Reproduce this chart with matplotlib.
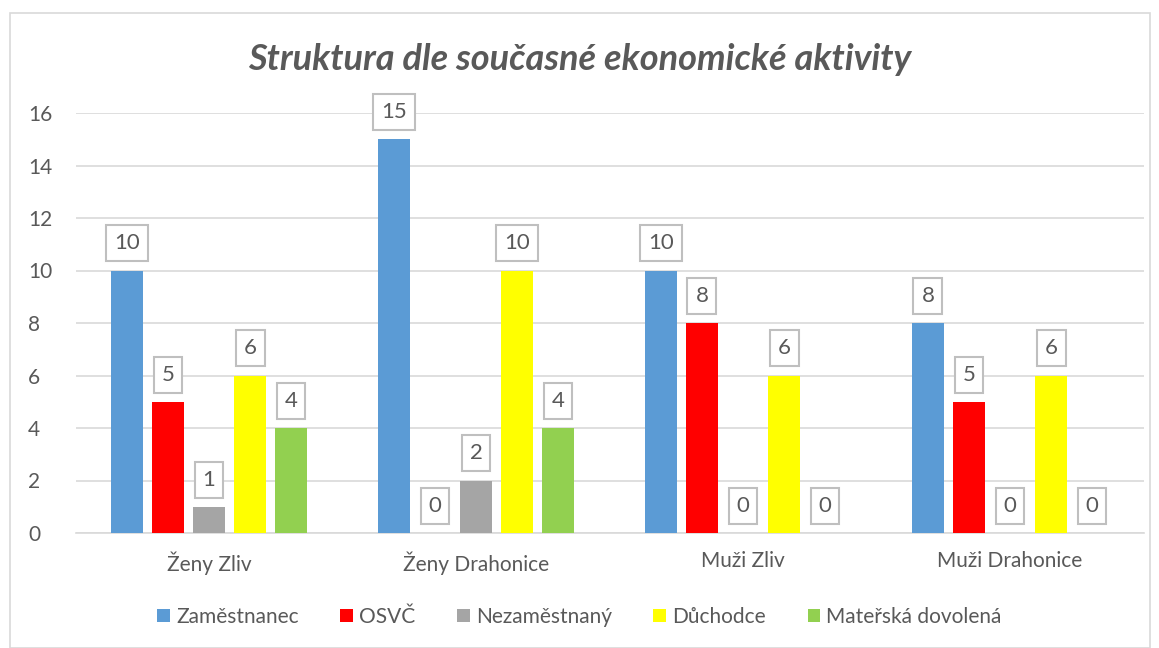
import matplotlib
matplotlib.use("Agg")
import matplotlib.pyplot as plt
import numpy as np
from matplotlib.patches import Rectangle

categories = ["Ženy Zliv", "Ženy Drahonice", "Muži Zliv", "Muži Drahonice"]
series_names = ["Zaměstnanec", "OSVČ", "Nezaměstnaný", "Důchodce", "Mateřská dovolená"]
zamestnanec = [10, 15, 10, 8]
osvc = [5, 0, 8, 5]
nezamestnany = [1, 2, 0, 0]
duchodce = [6, 10, 6, 6]
materska = [4, 4, 0, 0]
colors = ["#5B9BD5", "#FF0000", "#A5A5A5", "#FFFF00", "#92D050"]
title = "Struktura dle současné ekonomické aktivity"
yticks = [0, 2, 4, 6, 8, 10, 12, 14, 16]

plt.rcParams['font.family'] = ['Lato', 'DejaVu Sans']
txt = "#595959"

fig = plt.figure(figsize=(11.59, 6.48), dpi=100)
fig.patches.append(Rectangle((10/1159, 0), 1140/1159, 1 - 13/648, transform=fig.transFigure,
                             fill=False, edgecolor="#D9D9D9", linewidth=1.2))
ax = fig.add_axes([75.5/1159, 1 - 533/648, 1068/1159, 420/648])

data = [zamestnanec, osvc, nezamestnany, duchodce, materska]
x = np.arange(len(categories))
step = 0.1536
width = 0.12
for i, (vals, name, c) in enumerate(zip(data, series_names, colors)):
    pos = x + (i - 2) * step
    ax.bar(pos, vals, width=width, color=c, label=name, zorder=3)
    for p, v in zip(pos, vals):
        ax.annotate(str(v), (p, v), xytext=(0, 19.5), textcoords="offset points",
                    ha="center", va="center", fontsize=16, color=txt,
                    bbox=dict(boxstyle="square,pad=0.36", fc="white", ec="#BFBFBF", lw=1.5),
                    zorder=4)

ax.set_xlim(-0.5, 3.5)
ax.set_ylim(0, 16)
ax.set_yticks(yticks)
ax.set_xticks(x)
ax.set_xticklabels(categories)
ax.grid(axis="y", color="#D9D9D9", linewidth=1.2, zorder=0)
for s in ["top", "right", "left"]:
    ax.spines[s].set_visible(False)
ax.spines["bottom"].set_color("#D9D9D9")
ax.spines["bottom"].set_linewidth(1.2)
ax.tick_params(axis="both", length=0, labelsize=15, colors=txt)
ax.tick_params(axis="y", pad=34)
for lab in ax.get_yticklabels():
    lab.set_horizontalalignment("left")
ax.tick_params(axis="x", pad=13)

fig.text(0.5, 1 - 60/648, title, ha="center", va="center", fontsize=26,
         fontstyle="italic", fontweight="bold", color=txt)

fig.legend(loc="center", bbox_to_anchor=(0.5, 1 - 617/648), ncol=5, frameon=False,
           fontsize=15, handlelength=0.6, handleheight=0.6, handletextpad=0.3,
           columnspacing=2.0, labelcolor=txt)

fig.savefig("out.png", dpi=100)
